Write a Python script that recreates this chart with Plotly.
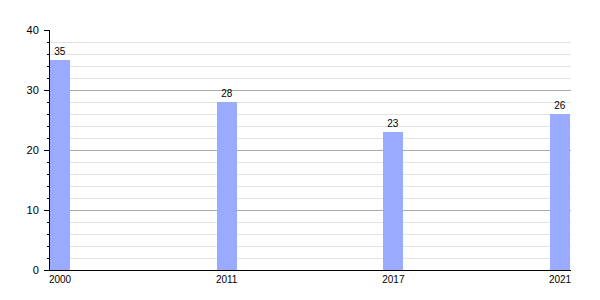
import plotly.graph_objects as go

years = ["2000", "2011", "2017", "2021"]
values = [35, 28, 23, 26]

fig = go.Figure(go.Bar(
    x=years, y=values, width=0.12,
    marker=dict(color="#99aaff", line=dict(width=0)),
    text=[str(v) for v in values], textposition="outside",
    textfont=dict(size=10, color="#000", family="Liberation Sans, Arial"),
    cliponaxis=False,
))

fig.update_layout(
    width=600, height=300,
    margin=dict(l=50, r=29, t=30, b=30),
    plot_bgcolor="white", paper_bgcolor="white",
    font=dict(family="Liberation Sans, Arial", size=11, color="#000"),
    showlegend=False,
    bargap=0,
)
fig.update_xaxes(
    type="category", range=[-0.06, 3.066],
    showline=True, linecolor="#000", linewidth=1,
    ticks="", showgrid=False, tickfont=dict(size=10),
)
fig.update_yaxes(
    range=[0, 40], dtick=10, tick0=0,
    showline=True, linecolor="#000", linewidth=1,
    ticks="outside", ticklen=5, tickcolor="#000",
    showgrid=True, gridcolor="#aaaaaa", gridwidth=1,
    zeroline=False, ticklabelstandoff=3,
    minor=dict(dtick=2, ticks="outside", ticklen=2, tickcolor="#000",
               showgrid=True, gridcolor="#e2e2e2", gridwidth=1),
)

fig.write_html("out.html")
